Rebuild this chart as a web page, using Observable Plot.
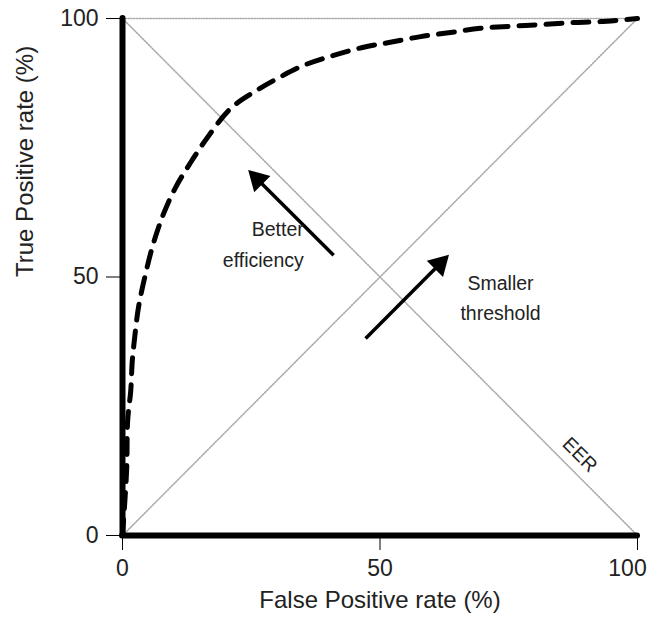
<!DOCTYPE html>
<html><head><meta charset="utf-8">
<script src="https://cdn.jsdelivr.net/npm/d3@7"></script>
<script src="https://cdn.jsdelivr.net/npm/@observablehq/plot@0.6"></script>
<style>body{margin:0;background:#fff;font-family:Arial,"Liberation Sans",sans-serif}</style>
</head><body><div id="chart"></div>
<script>
// ROC curve (dashed)
const rocFPR = [0, 0.8, 1.0, 1.6, 1.9, 2.3, 3.1, 4.5, 6.0, 8.0, 10.3, 13.2, 16.5, 21.0, 25.4, 30.1, 35.1, 40.8, 46.6, 52.0, 57.9, 63.7, 69.5, 75.3, 81.2, 87.0, 92.8, 100];
const rocTPR = [0, 12.6, 22.2, 28.0, 33.8, 37.7, 44.1, 50.7, 56.5, 62.3, 67.3, 72.1, 77.0, 82.6, 85.7, 88.4, 90.9, 92.8, 94.4, 95.4, 96.5, 97.3, 98.1, 98.5, 98.8, 99.2, 99.4, 100];
// reference lines: top, chance diagonal, EER anti-diagonal
const refNames = ["top", "top", "chance", "chance", "eer", "eer"];
const refX = [0, 100, 0, 100, 0, 100];
const refY = [100, 100, 0, 100, 100, 0];
// arrows
const arrowLabels = ["Better efficiency", "Smaller threshold"];
const arrowX1 = [41.0, 47.2];
const arrowY1 = [54.2, 38.1];
const arrowX2 = [25.1, 62.7];
const arrowY2 = [70.0, 53.6];
// annotation texts
const noteText = ["Better\nefficiency", "Smaller\nthreshold", "EER"];
const noteX = [35.2, 73.4, 88.8];
const noteY = [56.9, 46.4, 15.6];
const ticks = [0, 50, 100];

const roc = rocFPR.map((x, i) => ({x, y: rocTPR[i]}));
const refs = refX.map((x, i) => ({name: refNames[i], x, y: refY[i]}));
const arrows = arrowLabels.map((label, i) => {
  const dx = arrowX2[i] - arrowX1[i], dy = arrowY2[i] - arrowY1[i];
  const len = Math.hypot(dx, dy);
  return {label, x1: arrowX1[i], y1: arrowY1[i], x2: arrowX2[i], y2: arrowY2[i],
    ux: dx / len, uy: dy / len, angle: Math.atan2(dx, dy) * 180 / Math.PI};
});
const notes = noteText.map((t, i) => ({t, x: noteX[i], y: noteY[i]}));
const font = "Arial, 'Liberation Sans', sans-serif";

const chart = Plot.plot({
  width: 649, height: 628,
  marginLeft: 122, marginRight: 12, marginTop: 18, marginBottom: 93,
  style: {fontFamily: font, color: "#222", background: "#fff"},
  x: {domain: [0, 100]},
  y: {domain: [0, 100]},
  marks: [
    Plot.line(refs, {x: "x", y: "y", z: "name", stroke: "#aaa", strokeWidth: 1.6, strokeDasharray: "1.2,1.6"}),
    Plot.line(roc, {x: "x", y: "y", curve: "catmull-rom", stroke: "#000", strokeWidth: 5, strokeDasharray: "16,11"}),
    Plot.ruleX([0], {y1: 0, y2: 100, stroke: "#000", strokeWidth: 6, strokeLinecap: "round"}),
    Plot.ruleY([0], {x1: 0, x2: 100, stroke: "#000", strokeWidth: 6, strokeLinecap: "round"}),
    Plot.link(arrows, {x1: "x1", y1: "y1", x2: d => d.x2 - 2.5 * d.ux, y2: d => d.y2 - 2.5 * d.uy, stroke: "#000", strokeWidth: 3.5}),
    Plot.dot(arrows, {x: d => d.x2 - 1.6 * d.ux, y: d => d.y2 - 1.6 * d.uy, symbol: "triangle2", r: 11, fill: "#000", rotate: "angle"}),
    Plot.text(notes.slice(0, 1), {x: "x", y: "y", text: "t", textAnchor: "end", fontSize: 19.5, lineHeight: 1.6, fill: "#222"}),
    Plot.text(notes.slice(1, 2), {x: "x", y: "y", text: "t", textAnchor: "middle", fontSize: 19.5, lineHeight: 1.5, fill: "#222"}),
    Plot.text(notes.slice(2), {x: "x", y: "y", text: "t", rotate: 45, fontSize: 19.5, fill: "#222"}),
    Plot.axisX({ticks, tickSize: 15, tickFormat: () => "", label: null, stroke: "#000"}),
    Plot.text(ticks.slice(0, 2), {x: d => d, frameAnchor: "bottom", dy: 40, fontSize: 23, fill: "#222"}),
    Plot.text(ticks.slice(2), {x: d => d, frameAnchor: "bottom", dy: 40, dx: -10, fontSize: 23, fill: "#222"}),
    Plot.axisY({ticks, tickSize: 16, tickPadding: 8, fontSize: 23, label: null, tickFormat: d => d, stroke: "#000"}),
    Plot.text(["False Positive rate (%)"], {frameAnchor: "bottom", dy: 72, fontSize: 24, fill: "#222"}),
    Plot.text(["True Positive rate (%)"], {frameAnchor: "left", dx: -97, rotate: -90, fontSize: 24, fill: "#222"})
  ]
});
document.getElementById("chart").appendChild(chart);
</script></body></html>
